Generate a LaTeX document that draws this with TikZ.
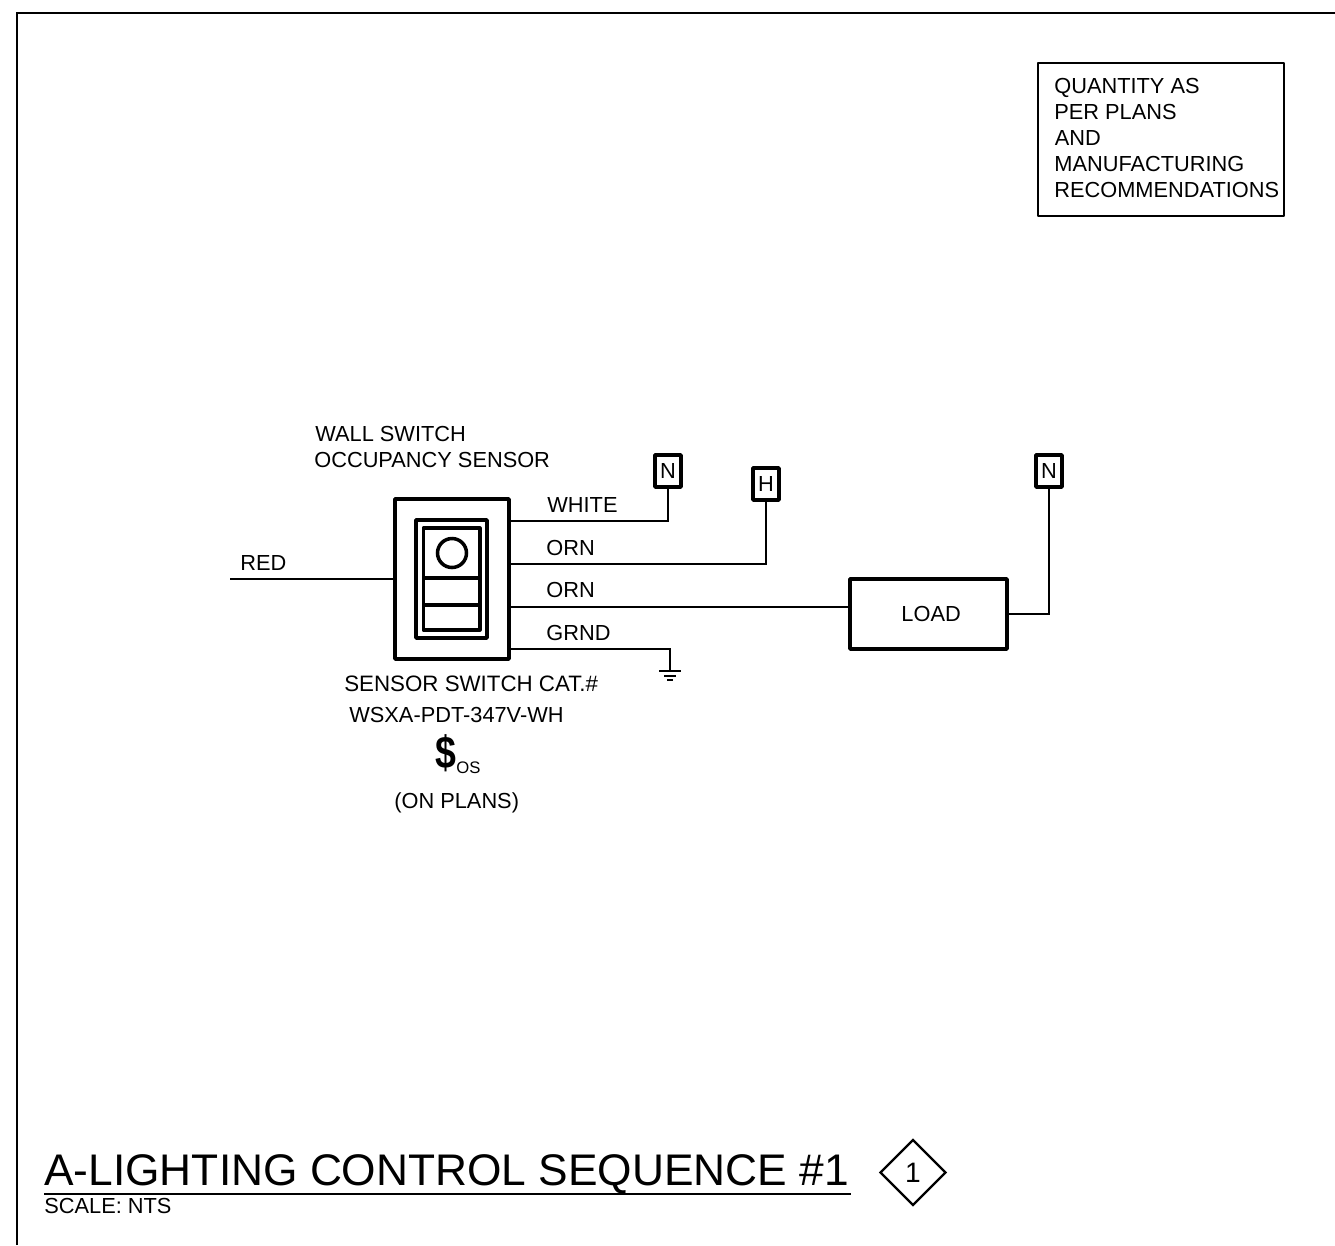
\documentclass[tikz,border=0pt]{standalone}
\usepackage{fontspec}
\setmainfont{Liberation Sans}
\usetikzlibrary{shapes.geometric}
\tikzset{
  lbl/.style={inner sep=0pt,font=\fontsize{12.4}{14}\selectfont,anchor=base west},
  wire/.style={line width=0.7pt},
  thickbox/.style={draw,line width=2pt,line join=round,inner sep=0pt},
  tagbox/.style={thickbox,minimum width=0.52cm,minimum height=0.64cm,font=\fontsize{12.4}{14}\selectfont}
}
\begin{document}
\begin{tikzpicture}[x=0.02cm,y=-0.02cm]
\useasboundingbox (0,0) rectangle (1335,1245);

% Drawing frame
\coordinate (framebl) at (17,1245);
\coordinate (frametl) at (17,13);
\coordinate (frametr) at (1335,13);
\draw[line width=1.4pt] (framebl) -- (frametl) -- (frametr);

% Quantity note
\node[thickbox,line width=1.2pt,minimum width=4.92cm,minimum height=3.06cm] (notebox) at (1161,139.5) {};
\node[lbl] (note1) at (1054,93) {QUANTITY AS};
\node[lbl] (note2) at (1054,119) {PER PLANS};
\node[lbl] (note3) at (1054.5,145) {AND};
\node[lbl] (note4) at (1054,171.5) {MANUFACTURING};
\node[lbl] (note5) at (1054,197.5) {RECOMMENDATIONS};

% Switch plate
\node[thickbox,minimum width=2.28cm,minimum height=3.2cm] (plate) at (452,579) {};
\node[thickbox,minimum width=1.42cm,minimum height=2.36cm] (bezel) at (451.5,579) {};
\node[thickbox,minimum width=1.13cm,minimum height=2.04cm] (rocker) at (451.5,579) {};
\node[circle,draw,line width=2pt,minimum size=0.58cm,inner sep=0pt] (lens) at (452,553) {};
\coordinate (div1l) at (422,578);
\coordinate (div1r) at (481,578);
\coordinate (div2l) at (422,605);
\coordinate (div2r) at (481,605);
\draw[line width=2pt] (div1l) -- (div1r);
\draw[line width=2pt] (div2l) -- (div2r);

% Terminals
\node[tagbox] (nwhite) at (668,471) {N};
\node[tagbox] (hot) at (766,484) {H};
\node[tagbox] (nload) at (1049,471) {N};
\node[thickbox,minimum width=3.14cm,minimum height=1.4cm,font=\fontsize{12.4}{14}\selectfont] (load) at (928.5,614) {\hspace*{3pt}LOAD};

% Wires
\coordinate (red) at (230,579);
\coordinate (whitept) at (510,521);
\coordinate (orn1pt) at (510,564);
\coordinate (orn2pt) at (510,607);
\coordinate (orn2end) at (849,607);
\coordinate (grndpt) at (510,649);
\coordinate (earth) at (670,671);
\draw[wire] (red) -- (plate.west);
\draw[wire] (whitept) -| (nwhite.south);
\draw[wire] (orn1pt) -| (hot.south);
\draw[wire] (orn2pt) -- (orn2end);
\draw[wire] (load.east) -| (nload.south);
\draw[wire] (grndpt) -| (earth);

% Ground symbol
\coordinate (earth1l) at (659,671);
\coordinate (earth1r) at (681,671);
\coordinate (earth2l) at (664,676);
\coordinate (earth2r) at (676,676);
\coordinate (earth3l) at (667,680);
\coordinate (earth3r) at (673,680);
\draw[wire] (earth1l) -- (earth1r);
\draw[wire] (earth2l) -- (earth2r);
\draw[wire] (earth3l) -- (earth3r);

% Wire labels
\node[lbl] (redlbl) at (240,570) {RED};
\node[lbl] (whitelbl) at (547,512) {WHITE};
\node[lbl] (orn1lbl) at (546,555) {ORN};
\node[lbl] (orn2lbl) at (546,597) {ORN};
\node[lbl] (grndlbl) at (546,640) {GRND};

% Sensor text
\node[lbl] (sensor1) at (315,441) {WALL SWITCH};
\node[lbl] (sensor2) at (314,467) {OCCUPANCY SENSOR};
\node[lbl,font=\fontsize{12.7}{14}\selectfont] (cat1) at (344,691) {SENSOR SWITCH CAT.\#};
\node[lbl] (cat2) at (349,722) {WSXA-PDT-347V-WH};
\node[lbl,font=\bfseries\fontsize{26}{28}\selectfont,xscale=0.82] (dollar) at (435.5,768) {\$};
\node[lbl,font=\fontsize{9.5}{11}\selectfont] (os) at (456,773) {OS};
\node[lbl] (onplans) at (394,808) {(ON PLANS)};

% Title
\node[lbl,font=\fontsize{25.2}{28}\selectfont] (title) at (44,1185) {A-LIGHTING CONTROL SEQUENCE \#1};
\coordinate (rulel) at (44,1194);
\coordinate (ruler) at (851,1194);
\draw[line width=1.6pt] (rulel) -- (ruler);
\node[lbl] (scale) at (44,1213) {SCALE: NTS};
\node[diamond,draw,line width=1.3pt,minimum width=1.32cm,minimum height=1.32cm,inner sep=0pt,font=\fontsize{16}{18}\selectfont] (seqno) at (913,1172.5) {1};

\end{tikzpicture}
\end{document}
